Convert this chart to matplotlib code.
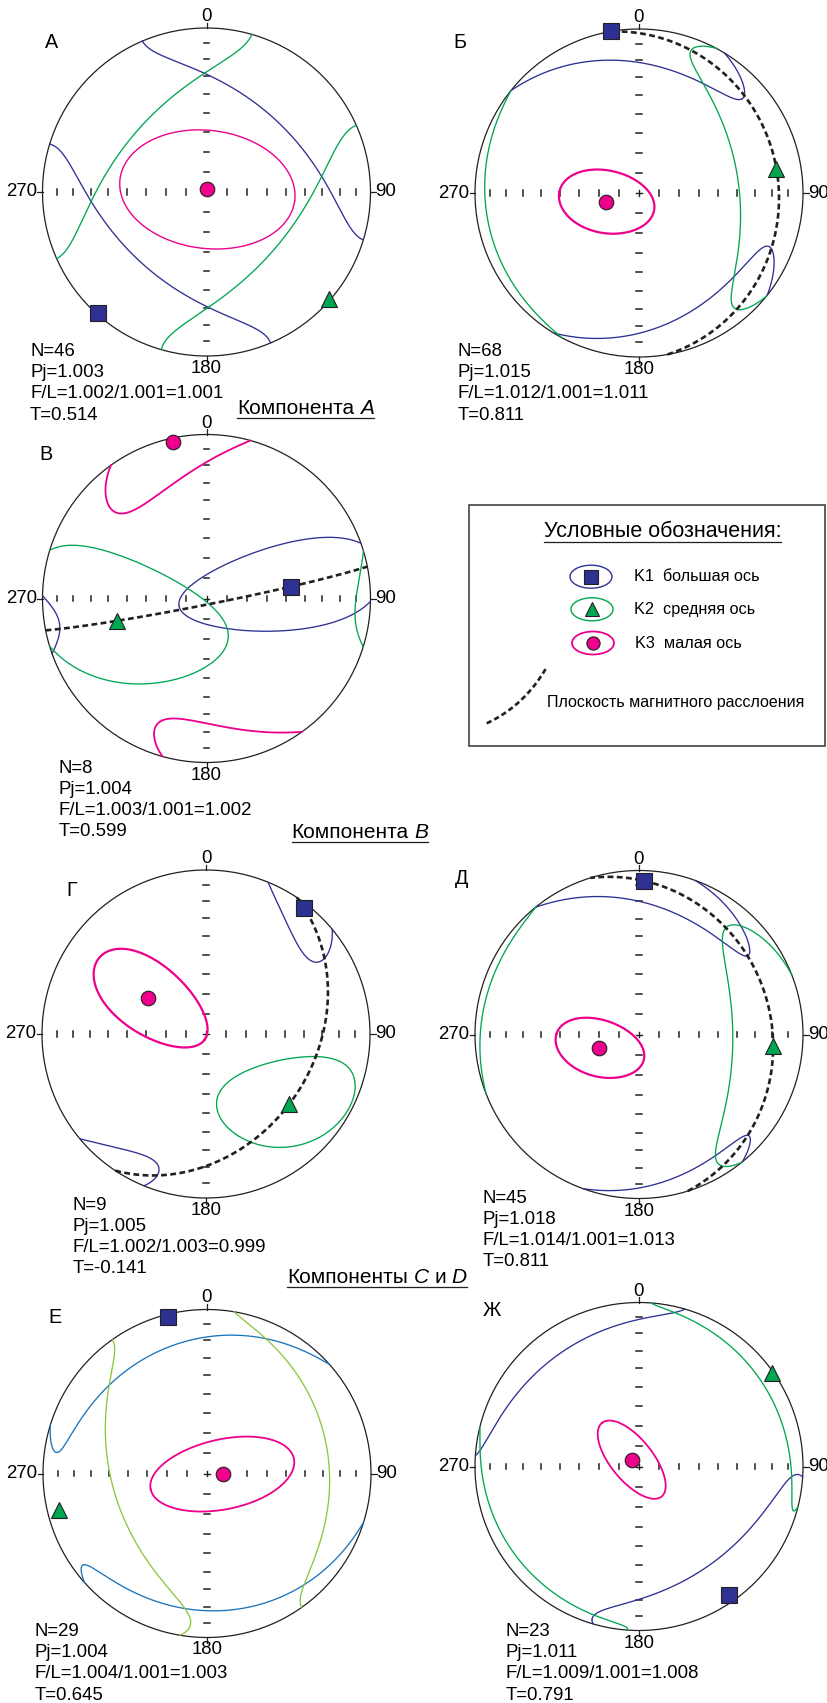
import numpy as np
import matplotlib
matplotlib.use('Agg')
import matplotlib.pyplot as plt
from matplotlib.patches import Ellipse, Rectangle, Circle
from matplotlib.transforms import Affine2D

plt.rcParams['font.family'] = ['Liberation Sans', 'DejaVu Sans']

W, H = 827, 1703
R = 164  # радиус сетки, px

BLUE = '#2e3192'
GREEN = '#00a651'
PINK = '#ec008c'

# ---------------- данные ----------------
net_names = ['А', 'Б', 'В', 'Г', 'Д', 'Е', 'Ж']
# оси K1, K2, K3: азимут и угол погружения, градусы
k_trend = [[222, 131, 20], [350, 80, 255], [82, 256, 348], [38, 130, 302],
           [2, 95, 251], [346, 256, 93], [145, 55, 313]]
k_plunge = [[1, 1, 88.6], [0, 16, 73], [47, 43, 3], [3, 34, 56],
            [7, 19, 69], [2, 8, 82], [5, 1, 85]]
# доверительные эллипсы: большая и малая полуоси, поворот (град)
ell_major = [[65, 65, 44.6], [59, 59, 24.2], [57, 56, 40], [26, 35.6, 35],
             [52, 53, 22.8], [68, 69, 36.9], [52, 51, 23.6]]
ell_minor = [[40, 44, 29.5], [18, 23, 15.4], [20, 29, 19], [11.6, 21.5, 16.5],
             [12.8, 23, 13.9], [18, 34, 17.3], [22, 9, 10.4]]
ell_rot = [[0, 0, -13], [19, 1, -65], [88, 116, -40], [50, 54, 95],
           [19, -6, -56], [-8, -5, 75], [0, 2, -82]]
has_plane = [False, True, True, True, True, False, False]

n_spec = [46, 68, 8, 9, 45, 29, 23]
pj = ['1.003', '1.015', '1.004', '1.005', '1.018', '1.004', '1.011']
fol = ['1.002', '1.012', '1.003', '1.002', '1.014', '1.004', '1.009']
lin = ['1.001', '1.001', '1.001', '1.003', '1.001', '1.001', '1.001']
fl = ['1.001', '1.011', '1.002', '0.999', '1.013', '1.003', '1.008']
shape_t = ['0.514', '0.811', '0.599', '-0.141', '0.811', '0.645', '0.791']

# ---------------- разметка ----------------
centers = [(206.5, 192), (639, 193), (206.5, 598.5), (206, 1034),
           (639, 1034.5), (207, 1473.5), (639, 1466.5)]
letter_pos = [(51.7, 42.7), (459.7, 42.7), (45.7, 455), (71.7, 890),
              (461.3, 878.3), (55, 1317.3), (492, 1310)]
stats_pos = [(30, 351.7), (457.3, 351.7), (58.3, 768.3), (72.7, 1205),
             (482.3, 1198.3), (35, 1631.7), (505.3, 1631.7)]
line_cols = [(BLUE, GREEN)] * 5 + [('#1b75bc', '#8dc63f'), (BLUE, GREEN)]
pink_lw = [1.0, 1.6, 1.3, 1.6, 1.6, 1.3, 1.3]

FS = 13.4
FS_TITLE = 15

fig = plt.figure(figsize=(W / 100, H / 100), dpi=100)
ax = fig.add_axes([0, 0, 1, 1])
ax.set_xlim(0, W)
ax.set_ylim(H, 0)
ax.axis('off')


def vec(t, p):
    t, p = np.radians(t), np.radians(p)
    return np.array([np.cos(p) * np.sin(t), np.cos(p) * np.cos(t), np.sin(p)])


def project(v):
    # нижняя полусфера, равноплощадная проекция
    v = np.where(v[2] < 0, -v, v)
    h = np.hypot(v[0], v[1])
    r = np.sqrt(np.clip(1 - v[2], 0, None))
    hs = np.where(h > 1e-12, h, 1)
    return r * v[0] / hs, r * v[1] / hs


def cone(t, p, a, b, psi, n=3000):
    c = vec(t, p)
    tr, pr = np.radians(t), np.radians(p)
    e1 = np.array([np.cos(tr), -np.sin(tr), 0])
    e2 = np.array([-np.sin(pr) * np.sin(tr), -np.sin(pr) * np.cos(tr), np.cos(pr)])
    ps = np.radians(psi)
    u = np.cos(ps) * e1 + np.sin(ps) * e2
    w = -np.sin(ps) * e1 + np.cos(ps) * e2
    phi = np.linspace(0, 2 * np.pi, n)
    A, B = np.radians(a), np.radians(b)
    rho = A * B / np.sqrt((B * np.cos(phi)) ** 2 + (A * np.sin(phi)) ** 2)
    return (np.outer(c, np.cos(rho)) + np.outer(u, np.sin(rho) * np.cos(phi))
            + np.outer(w, np.sin(rho) * np.sin(phi)))


def plot_curve(tr, pts, **kw):
    lower = pts[2] >= 0
    cuts = np.flatnonzero(np.diff(lower.astype(int))) + 1
    bounds = [0] + list(cuts) + [pts.shape[1]]
    cross = {}
    for i in cuts:
        p0, p1 = pts[:, i - 1], pts[:, i]
        s = p0[2] / (p0[2] - p1[2])
        q = p0 + s * (p1 - p0)
        q[2] = 0
        cross[i] = q / np.linalg.norm(q)
    for j in range(len(bounds) - 1):
        i0, i1 = bounds[j], bounds[j + 1]
        seg = pts[:, i0:i1]
        sgn = 1 if lower[i0] else -1
        parts = [seg]
        if i0 in cross:
            parts.insert(0, (sgn * cross[i0])[:, None])
        if i1 in cross:
            parts.append((sgn * cross[i1])[:, None])
        seg = np.hstack(parts)
        x, y = project(seg)
        ax.plot(x, y, transform=tr, solid_capstyle='round', **kw)


tick_r = np.sqrt(2) * np.sin(np.radians((90 - np.arange(10, 90, 10)) / 2))

for k in range(7):
    cx, cy = centers[k]
    tr = Affine2D().scale(R, -R).translate(cx, cy) + ax.transData

    ax.add_patch(Circle((0, 0), 1, transform=tr, fill=False, ec='#231f20', lw=0.9))
    h = 2.6 / R
    for r in tick_r:
        for s in (-1, 1):
            ax.plot([s * r, s * r], [-h, h], transform=tr, color='#231f20', lw=1.1)
            ax.plot([-h, h], [s * r, s * r], transform=tr, color='#231f20', lw=1.1)
    ax.plot([-h, h], [0, 0], transform=tr, color='#231f20', lw=1.0)
    ax.plot([0, 0], [-h, h], transform=tr, color='#231f20', lw=1.0)
    o = 1 + 5.5 / R
    for dx, dy in [(0, 1), (1, 0), (0, -1), (-1, 0)]:
        ax.plot([dx, dx * o], [dy, dy * o], transform=tr, color='#231f20', lw=0.9)

    ax.text(cx, cy - R - 11.5, '0', fontsize=FS, ha='center', va='center')
    ax.text(cx, cy + R + 12.5, '180', fontsize=FS, ha='center', va='center')
    ax.text(cx - R - 5.5, cy, '270', fontsize=FS, ha='right', va='center')
    ax.text(cx + R + 5, cy, '90', fontsize=FS, ha='left', va='center')
    lx, ly = letter_pos[k]
    ax.text(lx, ly, net_names[k], fontsize=FS + 0.8, ha='center', va='center')

    sx, sy = stats_pos[k]
    lines = ['N=%d' % n_spec[k], 'Pj=' + pj[k],
             'F/L=%s/%s=%s' % (fol[k], lin[k], fl[k]), 'T=' + shape_t[k]]
    for i, s in enumerate(lines):
        ax.text(sx, sy + 21.1 * i, s, fontsize=FS, ha='left', va='center')

    cb, cg = line_cols[k]
    cols = [cb, cg, PINK]
    lws = [0.95, 0.95, pink_lw[k]]
    for i in range(3):
        pts = cone(k_trend[k][i], k_plunge[k][i], ell_major[k][i],
                   ell_minor[k][i], ell_rot[k][i])
        plot_curve(tr, pts, color=cols[i], lw=lws[i])

    if has_plane[k]:
        n = np.cross(vec(k_trend[k][0], k_plunge[k][0]), vec(k_trend[k][1], k_plunge[k][1]))
        n /= np.linalg.norm(n)
        hz = np.cross(n, [0, 0, 1.0])
        hz /= np.linalg.norm(hz)
        d = np.cross(n, hz)
        if d[2] < 0:
            d = -d
        th = np.linspace(0, np.pi, 400)
        gc = np.outer(hz, np.cos(th)) + np.outer(d, np.sin(th))
        x, y = project(gc)
        ax.plot(x, y, transform=tr, color='#231f20', lw=1.9, ls=(0, (2.2, 1.3)))

    mk = [('s', BLUE, 11.5), ('^', GREEN, 12), ('o', PINK, 10.5)]
    for i in range(3):
        x, y = project(vec(k_trend[k][i], k_plunge[k][i])[:, None])
        m, c, ms = mk[i]
        ax.plot(x, y, marker=m, ms=ms, mfc=c, mec='#231f20', mew=0.8,
                ls='none', transform=tr, zorder=5)

# ---------------- заголовки компонент ----------------
renderer = fig.canvas.get_renderer()


def rich_title(xc, y, parts):
    widths = []
    for s, it in parts:
        t = ax.text(0, y, s, fontsize=FS_TITLE, style='italic' if it else 'normal')
        widths.append(t.get_window_extent(renderer=renderer).width)
        t.remove()
    gap = 5.6
    total = sum(widths) + gap * (len(parts) - 1)
    x = xc - total / 2
    for (s, it), w in zip(parts, widths):
        ax.text(x, y, s, fontsize=FS_TITLE, style='italic' if it else 'normal',
                ha='left', va='center')
        x += w + gap
    ax.plot([xc - total / 2, xc + total / 2], [y + 9.2, y + 9.2], color='#231f20', lw=0.9)


rich_title(305.3, 408.3, [('Компонента', False), ('A', True)])
rich_title(360, 832.5, [('Компонента', False), ('B', True)])
rich_title(377, 1277.5, [('Компоненты', False), ('C', True), ('и', False), ('D', True)])

# ---------------- условные обозначения ----------------
ax.add_patch(Rectangle((469, 505), 356, 241, fill=False, ec='#333333', lw=1.1))
t = ax.text(662.5, 531.7, 'Условные обозначения:', fontsize=15.5, ha='center', va='center')
bb = t.get_window_extent(renderer=renderer)
ax.plot([662.5 - bb.width / 2, 662.5 + bb.width / 2], [542, 542], color='#231f20', lw=0.9)

leg_items = [('K1  большая ось', BLUE, 's', 9.5), ('K2  средняя ось', GREEN, '^', 10.5),
             ('K3  малая ось', PINK, 'o', 9.5)]
leg_y = [576.7, 609.3, 643]
for i, (txt, c, m, ms) in enumerate(leg_items):
    ex = 591 + i
    ax.add_patch(Ellipse((ex, leg_y[i]), 42, 23, fill=False, ec=c, lw=1.0 if i < 2 else 1.3))
    ax.plot(ex, leg_y[i], marker=m, ms=ms, mfc=c, mec='#231f20', mew=0.8, ls='none')
    ax.text(633.5 + i * 0.8, leg_y[i], txt, fontsize=11.7, ha='left', va='center')

tb = np.linspace(0, 1, 50)
p0, p1, p2 = np.array([486.7, 723.3]), np.array([524, 706]), np.array([546, 668.3])
bz = np.outer((1 - tb) ** 2, p0) + np.outer(2 * tb * (1 - tb), p1) + np.outer(tb ** 2, p2)
ax.plot(bz[:, 0], bz[:, 1], color='#231f20', lw=1.9, ls=(0, (2.0, 1.2)))
ax.text(546.7, 702.7, 'Плоскость магнитного расслоения', fontsize=11.5, ha='left', va='center')

fig.savefig('out.png', dpi=100)
